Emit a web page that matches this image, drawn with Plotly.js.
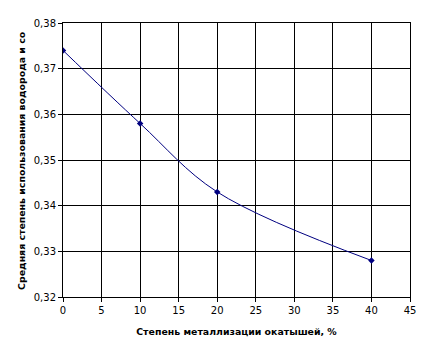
<!DOCTYPE html>
<html>
<head>
<meta charset="utf-8">
<script src="https://cdn.plot.ly/plotly-3.0.1.min.js"></script>
<style>html,body{margin:0;padding:0;background:#fff;}#chart{width:430px;height:354px;}</style>
</head>
<body>
<div id="chart"></div>
<script>
const metallization = [0, 10, 20, 40];
const hydrogenUse = [0.374, 0.358, 0.343, 0.328];
const xTicks = [0, 5, 10, 15, 20, 25, 30, 35, 40, 45];
const yTicks = [0.32, 0.33, 0.34, 0.35, 0.36, 0.37, 0.38];
const xTitle = 'Степень металлизации окатышей, %';
const yTitle = 'Средняя степень использования водорода и со';

const trace = {
  x: metallization, y: hydrogenUse, type: 'scatter', mode: 'lines+markers',
  line: {color: '#000080', width: 1, shape: 'spline', smoothing: 1},
  marker: {color: '#000080', size: 5, symbol: 'diamond'},
  hoverinfo: 'none'
};
const font = {family: 'DejaVu Sans, Verdana, sans-serif', size: 10, color: '#000'};
const titleFont = {family: 'DejaVu Sans, Verdana, sans-serif', size: 9.4, color: '#000', weight: 'bold'};
const layout = {
  width: 430, height: 354,
  margin: {l: 63, r: 20, t: 23, b: 57, pad: 0},
  paper_bgcolor: '#fff', plot_bgcolor: '#fff',
  separators: ', ',
  showlegend: false,
  font: font,
  xaxis: {
    range: [0, 45], tickvals: xTicks, ticktext: xTicks.map(String),
    showgrid: true, gridcolor: '#000', gridwidth: 1,
    showline: true, linecolor: '#000', linewidth: 1, mirror: true,
    ticks: 'outside', ticklen: 4, tickcolor: '#000', zeroline: false,
    tickfont: font,
    title: {text: xTitle, font: titleFont, standoff: 13}
  },
  yaxis: {
    range: [0.32, 0.38], tickvals: yTicks, tickformat: '.2f',
    showgrid: true, gridcolor: '#000', gridwidth: 1,
    showline: true, linecolor: '#000', linewidth: 1, mirror: true,
    ticks: 'outside', ticklen: 4, tickcolor: '#000', zeroline: false,
    tickfont: font
  },
  annotations: [{
    text: yTitle, xref: 'paper', yref: 'paper',
    x: -0.118, y: 0.497, xanchor: 'center', yanchor: 'middle', textangle: -90, showarrow: false,
    font: titleFont
  }]
};
Plotly.newPlot('chart', [trace], layout, {staticPlot: true, displayModeBar: false});
</script>
</body>
</html>
